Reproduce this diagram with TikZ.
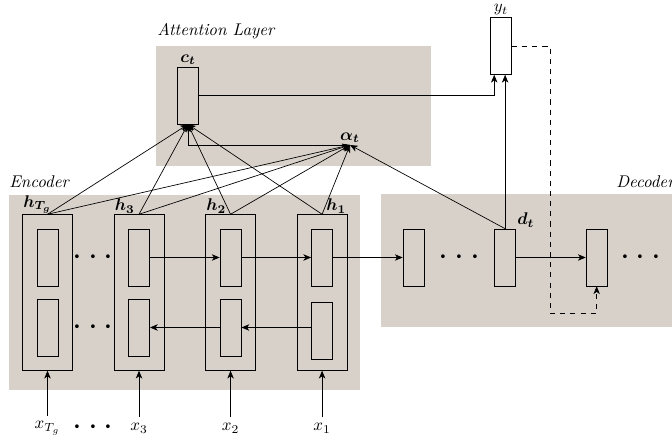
\documentclass[tikz,border=0pt]{standalone}
\usepackage{bm}
\usetikzlibrary{arrows.meta,backgrounds,fit,positioning}
\definecolor{layergray}{RGB}{215,209,201}
\tikzset{->, % every connector is directed
>={Stealth[length=4.6pt, width=3.8pt, inset=1.3pt]}, % arrow heads
line width=0.55pt, % a bit heavier than thin
x=0.59pt, y=-0.59pt, % one unit is one pixel of the sketch
node distance=54pt, % distance between two time steps
cell/.style={draw, minimum width=12.5pt, minimum height=33.6pt, inner sep=0pt}, % one hidden state
unit/.style={draw, inner sep=8.3pt}, % forward and backward state of one step
layer/.style={fill=layergray}, % shaded layer
caption/.style={font=\itshape, anchor=west, inner sep=0pt}, % name of a layer
dots/.style={font=\huge, inner sep=0pt}, % skipped steps
hlabel/.style={anchor=south west, inner sep=0.5pt}, % label of a state
top/.style={inner sep=1pt}, % label above a cell
}

\begin{document}
\begin{tikzpicture}
\useasboundingbox (0,0) rectangle (672,438);
% states, one step apart
\node[cell] (hTf) at (47.5,257.5) {};
\node[cell, right of=hTf] (h3f) {};
\node[cell, right of=h3f] (h2f) {};
\node[cell, right of=h2f] (h1f) {};
\node[cell, right of=h1f] (d1) {};
\node[cell, right of=d1, label={[hlabel]north east:$\bm{d_t}$}] (dt) {};
\node[cell, right of=dt] (d3) {};
\node[cell, node distance=41.3pt, below of=hTf] (hTb) {};
\node[cell, node distance=41.3pt, below of=h3f] (h3b) {};
\node[cell, node distance=41.3pt, below of=h2f] (h2b) {};
\node[cell, node distance=43.4pt, below of=h1f] (h1b) {};
\node[unit, fit=(hTf)(hTb), label={[hlabel]north west:$\bm{h_{T_g}}$}] (hT) {};
\node[unit, fit=(h3f)(h3b), label={[hlabel]north west:$\bm{h_3}$}] (h3) {};
\node[unit, fit=(h2f)(h2b), label={[hlabel]north west:$\bm{h_2}$}] (h2) {};
\node[unit, fit=(h1f)(h2b.south -| h1f), label={[hlabel, anchor=south east]north east:$\bm{h_1}$}] (h1) {};
\node[dots, node distance=27pt, right of=hTf] (skipf) {$\cdots$};
\node[dots, node distance=27pt, right of=hTb] (skipb) {$\cdots$};
\node[dots, node distance=27pt, right of=d1] (skipd) {$\cdots$};
\node[dots, node distance=26pt, right of=d3] (skipe) {$\cdots$};
% inputs
\node[node distance=80pt, below of=hT] (xT) {$x_{T_g}$};
\node[node distance=80pt, below of=h3] (x3) {$x_3$};
\node[node distance=80pt, below of=h2] (x2) {$x_2$};
\node[node distance=80pt, below of=h1] (x1) {$x_1$};
\node[dots, node distance=27pt, right of=xT] (skipx) {$\cdots$};
% attention and output
\node[cell, label={[top]above:$\bm{c_t}$}] (ct) at (188,95.5) {};
\node[cell, label={[top]above:$y_t$}] (yt) at (501,46) {};
\coordinate[label={[top]above:$\bm{\alpha_t}$}] (alpha) at (350,145);
\coordinate (feed) at (550,313);
% layers
\node[caption] (enc) at (9,182) {Encoder};
\node[caption] (att) at (157,31) {Attention Layer};
\node[caption] (dec) at (616,182) {Decoder};
\begin{scope}[on background layer]
\fill[layer] (9,195) rectangle (360,390);
\fill[layer] (156,46) rectangle (431,166);
\fill[layer] (381,194) rectangle (690,327);
\end{scope}
\path (xT) edge (hT)
(x3) edge (h3)
(x2) edge (h2)
(x1) edge (h1)
(h3f) edge (h2f)
(h2f) edge (h1f)
(h1f) edge (d1)
(dt) edge (d3)
(h2b -| h1b.west) edge (h2b)
(h2b) edge (h3b)
(hT.north) edge (ct.south)
(h3.north) edge (ct.south)
(h2.north) edge (ct.south)
(h1.north) edge (ct.south)
(hT.north) edge (alpha)
(h3.north) edge (alpha)
(h2.north) edge (alpha)
(h1.north) edge (alpha)
(dt.north) edge (alpha)
(dt.north) edge (dt.north |- yt.south);
\draw (alpha) -| (ct);
\draw (ct) -| ([xshift=-4pt]yt.south);
\draw[dashed] (yt) -| (feed) -| (d3);
\end{tikzpicture}
\end{document}
